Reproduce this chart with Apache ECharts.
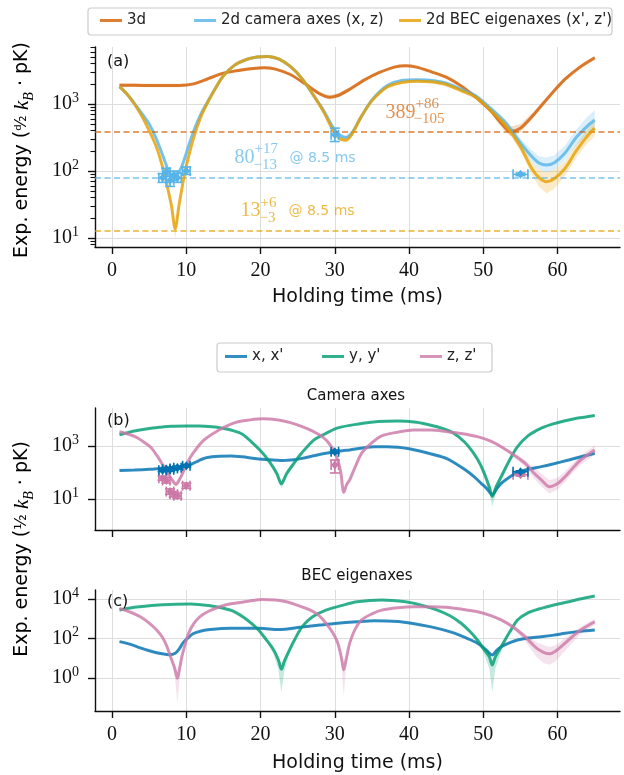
<!DOCTYPE html>
<html><head><meta charset="utf-8">
<script src="https://cdn.jsdelivr.net/npm/echarts@6/dist/echarts.min.js"></script>
<style>html,body{margin:0;padding:0;background:#fff}#c{width:624px;height:775px}</style>
</head><body><div id="c"></div>
<script>
// ---------- DATA (values are log10 of energy) ----------
const xTicks = [0, 10, 20, 30, 40, 50, 60];
const aMajor = [10, 100, 1000];
const aMinor = [8, 9, 20, 30, 40, 50, 60, 70, 80, 90, 200, 300, 400, 500, 600, 700, 800, 900, 2000, 3000, 4000, 5000, 6000, 7000];
const bMajor = [10, 1000];
const cMajor = [1, 100, 10000];

// panel (a)
const a3d_t = [1, 3, 5, 7, 9, 11, 13, 15, 17, 19, 20.5, 22, 24, 26, 28, 29.3, 30.5, 32, 34, 36, 38, 39.5, 41, 43, 45, 47, 49, 51, 52.5, 53.6, 55, 57, 59, 61, 63, 65];
const a3d_e = [3.28, 3.28, 3.275, 3.275, 3.275, 3.30, 3.38, 3.46, 3.50, 3.53, 3.54, 3.52, 3.44, 3.30, 3.15, 3.10, 3.13, 3.22, 3.36, 3.47, 3.55, 3.57, 3.55, 3.48, 3.40, 3.27, 3.10, 2.90, 2.70, 2.59, 2.64, 2.87, 3.13, 3.37, 3.55, 3.69];
const a3d_w = [0.03,0.025,0.025,0.025,0.025, 0.02,0.02,0.02,0.02,0.02, 0.02,0.02,0.02,0.02,0.025, 0.03,0.03,0.025,0.02,0.02, 0.02,0.02,0.02,0.02,0.02, 0.025,0.03,0.04,0.06,0.07, 0.06,0.04,0.03,0.03,0.03,0.03];

const a2_t = [1, 2, 3, 4, 5, 6, 7, 7.5, 8, 8.5, 9, 9.5, 10, 11, 12, 13, 14, 15, 16.5, 18, 19.5, 21, 22.5, 24, 25.5, 27, 28.5, 29.7, 30.7, 31.5, 32.3, 33.5, 35, 37, 39, 41, 43, 45, 47, 49, 51, 53, 55, 56.5, 57.5, 58.5, 59.5, 61, 62.5, 64, 65];
const aCam_e = [3.26, 3.15, 3.01, 2.86, 2.70, 2.47, 2.18, 2.03, 1.94, 1.92, 1.98, 2.10, 2.27, 2.60, 2.86, 3.06, 3.25, 3.42, 3.58, 3.66, 3.70, 3.71, 3.67, 3.56, 3.39, 3.15, 2.90, 2.66, 2.53, 2.50, 2.57, 2.80, 3.06, 3.27, 3.35, 3.36, 3.35, 3.31, 3.22, 3.12, 2.93, 2.72, 2.42, 2.22, 2.12, 2.09, 2.12, 2.27, 2.50, 2.67, 2.76];
const aCam_w = [0.03,0.02,0.02,0.02,0.02, 0.02,0.03,0.03,0.03,0.03, 0.03,0.03,0.03,0.02,0.02, 0.02,0.02,0.02,0.02,0.02, 0.02,0.02,0.02,0.02,0.02, 0.02,0.02,0.03,0.03,0.03, 0.03,0.02,0.02,0.02,0.02, 0.02,0.03,0.03,0.03,0.03, 0.04,0.05,0.07,0.09,0.10, 0.11,0.11,0.11,0.12,0.14, 0.15];
const aBec_e = [3.26, 3.15, 3.00, 2.82, 2.60, 2.35, 1.98, 1.74, 1.48, 1.14, 1.48, 1.80, 2.08, 2.50, 2.82, 3.05, 3.25, 3.42, 3.58, 3.66, 3.70, 3.71, 3.67, 3.56, 3.39, 3.15, 2.88, 2.62, 2.48, 2.46, 2.55, 2.80, 3.05, 3.25, 3.32, 3.34, 3.33, 3.29, 3.20, 3.10, 2.90, 2.68, 2.36, 2.04, 1.90, 1.84, 1.88, 2.04, 2.30, 2.52, 2.64];
const aBec_w = [0.03,0.02,0.02,0.02,0.02, 0.02,0.03,0.03,0.04,0.05, 0.04,0.03,0.03,0.02,0.02, 0.02,0.02,0.02,0.02,0.02, 0.02,0.02,0.02,0.02,0.02, 0.02,0.02,0.03,0.03,0.03, 0.03,0.02,0.02,0.02,0.02, 0.02,0.03,0.03,0.03,0.03, 0.03,0.04,0.06,0.09,0.12, 0.14,0.13,0.11,0.10,0.11, 0.12];
const aBec_wlo = [0.03,0.02,0.02,0.02,0.02, 0.02,0.03,0.04,0.08,0.16, 0.08,0.04,0.03,0.02,0.02, 0.02,0.02,0.02,0.02,0.02, 0.02,0.02,0.02,0.02,0.02, 0.02,0.02,0.03,0.03,0.03, 0.03,0.02,0.02,0.02,0.02, 0.02,0.03,0.03,0.03,0.03, 0.03,0.04,0.06,0.09,0.14, 0.17,0.15,0.11,0.10,0.11, 0.12];
const aLevels = [389, 80, 13];

// measured points (shared times)
const ptT = [6.8, 7.3, 7.8, 8.3, 8.8, 10.0, 30.0, 55.0];
const ptTerr = [0.5, 0.5, 0.5, 0.5, 0.5, 0.5, 0.5, 1.0];
const aPtE  = [1.90, 1.98, 1.86, 1.93, 1.90, 2.00, 2.54, 1.95];
const aPtLo = [1.83, 1.92, 1.77, 1.86, 1.83, 1.95, 2.44, 1.93];
const aPtHi = [1.96, 2.04, 1.94, 2.00, 1.97, 2.06, 2.64, 1.97];
const bXPtE  = [2.08, 2.12, 2.10, 2.15, 2.18, 2.25, 2.78, 2.03];
const bXPtLo = [2.03, 2.07, 2.05, 2.10, 2.13, 2.20, 2.72, 2.00];
const bXPtHi = [2.13, 2.17, 2.15, 2.20, 2.23, 2.30, 2.84, 2.06];
const bZPtE  = [1.78, 1.70, 1.28, 1.18, 1.12, 1.50, 2.28, 1.91];
const bZPtLo = [1.70, 1.60, 1.18, 1.08, 1.02, 1.40, 1.98, 1.86];
const bZPtHi = [1.86, 1.80, 1.38, 1.28, 1.22, 1.60, 2.47, 1.96];

// panel (b) camera axes
const bX_t = [1, 3, 5, 6.3, 7.5, 8.5, 9.5, 10.6, 11.7, 12.8, 14.5, 16, 17.5, 19.2, 21, 23, 24.5, 25.6, 27.5, 29.4, 31, 32, 33.5, 35.3, 37, 38.5, 40, 41.7, 43.5, 45, 46.3, 47.6, 48.7, 49.7, 50.5, 51.2, 51.8, 52.4, 53.5, 54.6, 56, 57.8, 59.5, 61.5, 63, 65];
const bX_e = [2.07, 2.09, 2.12, 2.15, 2.18, 2.20, 2.23, 2.30, 2.45, 2.56, 2.61, 2.62, 2.59, 2.53, 2.48, 2.45, 2.48, 2.53, 2.65, 2.75, 2.82, 2.85, 2.91, 2.97, 2.97, 2.95, 2.89, 2.79, 2.66, 2.53, 2.33, 2.09, 1.85, 1.59, 1.38, 1.15, 1.38, 1.59, 1.82, 2.00, 2.12, 2.22, 2.33, 2.47, 2.58, 2.72];
const bX_w = [0.03,0.02,0.02,0.02,0.02, 0.02,0.02,0.02,0.02,0.02, 0.02,0.02,0.02,0.02,0.02, 0.02,0.02,0.02,0.02,0.02, 0.02,0.02,0.02,0.02,0.02, 0.02,0.02,0.02,0.02,0.02, 0.02,0.03,0.03,0.04,0.05, 0.07,0.05,0.04,0.03,0.03, 0.03,0.03,0.03,0.03,0.03, 0.03];
const bY_t = [1, 3, 5, 6.3, 8, 10, 11.7, 13.5, 15, 16, 17.5, 19.2, 20.3, 21.3, 22.2, 22.8, 23.5, 24.5, 25.5, 27.2, 29, 30.4, 33, 35.8, 38.5, 41, 42.8, 44.5, 46, 47.5, 48.7, 49.6, 50.3, 50.8, 51.2, 51.7, 52.4, 53.5, 54.6, 56, 57.8, 59.5, 61.5, 63, 65];
const bY_e = [3.42, 3.56, 3.66, 3.70, 3.74, 3.75, 3.75, 3.72, 3.66, 3.60, 3.45, 3.04, 2.72, 2.36, 1.95, 1.57, 1.95, 2.35, 2.72, 3.23, 3.50, 3.68, 3.82, 3.92, 3.94, 3.89, 3.79, 3.66, 3.48, 3.14, 2.72, 2.30, 1.84, 1.45, 1.09, 1.45, 1.84, 2.45, 2.97, 3.38, 3.67, 3.84, 3.98, 4.06, 4.15];
const bY_w = [0.03,0.02,0.02,0.02,0.02, 0.02,0.02,0.02,0.02,0.02, 0.02,0.03,0.04,0.05,0.07, 0.10,0.07,0.05,0.04,0.03, 0.02,0.02,0.02,0.02,0.02, 0.02,0.02,0.02,0.03,0.04, 0.05,0.07,0.10,0.13,0.15, 0.13,0.10,0.06,0.04,0.03, 0.03,0.03,0.03,0.03,0.03];
const bY_wlo = [0.03,0.02,0.02,0.02,0.02, 0.02,0.02,0.02,0.02,0.02, 0.02,0.03,0.04,0.06,0.10, 0.18,0.10,0.06,0.04,0.03, 0.02,0.02,0.02,0.02,0.02, 0.02,0.02,0.02,0.03,0.04, 0.05,0.08,0.14,0.22,0.38, 0.22,0.14,0.07,0.04,0.03, 0.03,0.03,0.03,0.03,0.03];
const bZ_t = [1, 2, 3.1, 4, 5.2, 6, 6.8, 7.5, 8.0, 8.6, 9.2, 9.8, 10.5, 11.5, 12.5, 14.4, 16, 17.1, 18.5, 20.3, 22.4, 24, 25.6, 27, 28.3, 29.2, 29.9, 30.4, 30.8, 31.2, 31.6, 32, 32.8, 33.6, 35, 36.3, 38.5, 40.6, 43, 45, 47, 49.2, 51, 52.4, 54, 55.6, 56.8, 57.8, 58.9, 60, 61, 62, 63.1, 65];
const bZ_e = [3.54, 3.46, 3.35, 3.20, 2.95, 2.65, 2.30, 1.98, 1.75, 1.55, 1.80, 2.15, 2.55, 2.95, 3.25, 3.60, 3.82, 3.92, 3.98, 4.02, 3.98, 3.88, 3.73, 3.56, 3.35, 3.10, 2.79, 2.45, 2.00, 1.25, 1.55, 1.72, 2.25, 2.72, 3.12, 3.38, 3.52, 3.60, 3.60, 3.54, 3.47, 3.35, 3.18, 2.97, 2.68, 2.35, 1.98, 1.72, 1.46, 1.58, 1.84, 2.15, 2.47, 2.85];
const bZ_w = [0.03,0.03,0.03,0.03,0.03, 0.03,0.04,0.05,0.07,0.10, 0.07,0.05,0.04,0.03,0.03, 0.03,0.03,0.03,0.03,0.03, 0.03,0.03,0.03,0.03,0.03, 0.03,0.04,0.05,0.07,0.10, 0.07,0.05,0.04,0.03,0.03, 0.03,0.03,0.03,0.03,0.03, 0.03,0.03,0.04,0.05,0.08, 0.12,0.20,0.25,0.25,0.22, 0.20,0.18,0.18,0.18];

// panel (c) BEC eigenaxes
const cX_t = [1, 2.5, 3.8, 5, 6.5, 7.8, 8.5, 9.0, 9.6, 10.3, 10.9, 12, 13.2, 16, 19.9, 22.4, 25.6, 28, 30, 33, 35.3, 38.5, 40.5, 42.8, 44.5, 46, 47.5, 49.2, 50.3, 51.2, 51.8, 52.4, 53.5, 54.6, 56, 57.8, 59.5, 61, 63, 65];
const cX_e = [1.84, 1.70, 1.52, 1.38, 1.24, 1.17, 1.25, 1.45, 1.80, 2.05, 2.24, 2.38, 2.46, 2.52, 2.52, 2.45, 2.58, 2.68, 2.76, 2.85, 2.90, 2.86, 2.76, 2.60, 2.45, 2.28, 2.05, 1.76, 1.45, 1.16, 1.40, 1.58, 1.78, 1.92, 2.02, 2.09, 2.17, 2.26, 2.36, 2.43];
const cX_w = [0.03,0.03,0.03,0.03,0.04, 0.05,0.05,0.04,0.03,0.03, 0.03,0.03,0.03,0.03,0.03, 0.03,0.03,0.03,0.03,0.03, 0.03,0.03,0.03,0.03,0.03, 0.03,0.03,0.04,0.05,0.07, 0.05,0.04,0.03,0.03,0.03, 0.03,0.03,0.03,0.03,0.03];
const cY_t = [1, 3, 6.3, 8.5, 10.6, 13, 15, 16.5, 18.2, 19.6, 20.8, 21.7, 22.4, 22.8, 23.2, 23.8, 24.6, 25.6, 27, 28.8, 31, 33, 36.3, 39.5, 41.5, 43.8, 45.5, 47, 48.2, 49.2, 50.1, 50.8, 51.2, 51.6, 52.4, 53.5, 54.6, 56, 57.8, 59.5, 61.5, 63, 65];
const cY_e = [3.44, 3.58, 3.70, 3.74, 3.75, 3.67, 3.53, 3.35, 2.94, 2.48, 1.92, 1.45, 0.91, 0.44, 0.85, 1.35, 1.95, 2.60, 3.10, 3.44, 3.68, 3.86, 3.95, 3.86, 3.70, 3.44, 3.15, 2.77, 2.35, 1.92, 1.45, 1.08, 0.66, 1.05, 1.58, 2.30, 2.94, 3.30, 3.53, 3.70, 3.86, 4.00, 4.15];
const cY_w = [0.03,0.02,0.02,0.02,0.02, 0.02,0.02,0.02,0.03,0.04, 0.06,0.10,0.15,0.20,0.15, 0.10,0.06,0.04,0.03,0.02, 0.02,0.02,0.02,0.02,0.02, 0.02,0.02,0.03,0.04,0.06, 0.10,0.15,0.20,0.15,0.10, 0.06,0.04,0.03,0.02,0.02, 0.02,0.02,0.02];
const cY_wlo = [0.03,0.02,0.02,0.02,0.02, 0.02,0.02,0.02,0.03,0.05, 0.08,0.20,0.50,1.20,0.50, 0.20,0.08,0.05,0.03,0.02, 0.02,0.02,0.02,0.02,0.02, 0.02,0.02,0.03,0.05,0.08, 0.25,0.60,1.42,0.60,0.25, 0.08,0.05,0.03,0.02,0.02, 0.02,0.02,0.02];
const cZ_t = [1, 2.5, 3.8, 5, 6, 6.8, 7.4, 7.9, 8.2, 8.5, 8.8, 9.1, 9.4, 9.8, 10.3, 11, 11.8, 13, 14.5, 16, 18.1, 20.3, 22, 23.5, 25, 26.7, 27.8, 28.8, 29.7, 30.4, 30.9, 31.2, 31.5, 32, 32.7, 33.6, 35, 36.3, 38.5, 40.6, 43, 45, 47, 49.2, 51, 52.4, 54, 55.6, 56.5, 57.2, 58.1, 58.9, 59.7, 61, 62, 63.1, 65];
const cZ_e = [3.53, 3.33, 3.10, 2.78, 2.43, 2.05, 1.58, 1.05, 0.74, 0.40, -0.02, 0.50, 1.08, 1.65, 2.26, 2.75, 3.10, 3.38, 3.61, 3.76, 3.88, 3.98, 3.95, 3.86, 3.68, 3.44, 3.18, 2.77, 2.30, 1.76, 1.00, 0.41, 0.90, 1.76, 2.45, 2.94, 3.25, 3.44, 3.56, 3.61, 3.61, 3.58, 3.49, 3.36, 3.16, 2.94, 2.58, 2.09, 1.75, 1.50, 1.30, 1.22, 1.35, 1.76, 2.10, 2.43, 2.85];
const cZ_w = [0.03,0.03,0.03,0.03,0.03, 0.04,0.05,0.07,0.10,0.12, 0.15,0.12,0.10,0.07,0.05, 0.04,0.03,0.03,0.03,0.03, 0.03,0.03,0.03,0.03,0.03, 0.03,0.03,0.04,0.05,0.07, 0.10,0.15,0.10,0.07,0.05, 0.04,0.03,0.03,0.03,0.03, 0.03,0.03,0.03,0.03,0.04, 0.05,0.08,0.15,0.25,0.30, 0.35,0.35,0.30,0.25,0.20, 0.17,0.15];
const cZ_wlo = [0.03,0.03,0.03,0.03,0.03, 0.04,0.06,0.10,0.20,0.50, 1.25,0.50,0.20,0.10,0.06, 0.04,0.03,0.03,0.03,0.03, 0.03,0.03,0.03,0.03,0.03, 0.03,0.03,0.04,0.06,0.12, 0.40,1.35,0.40,0.12,0.06, 0.04,0.03,0.03,0.03,0.03, 0.03,0.03,0.03,0.03,0.04, 0.06,0.10,0.20,0.35,0.45, 0.55,0.55,0.50,0.40,0.30, 0.20,0.15];

// ---------- STYLE ----------
const SERIF = "'Liberation Serif', 'DejaVu Serif', serif";
const SANS = "'DejaVu Sans', sans-serif";
const INK = '#111';
const C = {
  o: [213, 94, 0], sky: [86, 180, 233], gold: [230, 159, 0],
  bl: [0, 114, 178], gr: [0, 158, 115], pk: [204, 121, 167]
};
const rgba = (c, a) => `rgba(${c[0]},${c[1]},${c[2]},${a})`;
const P = v => Math.pow(10, v);

function curve(name, col, gi, yi, t, e, w, wlo, z, extra) {
  const lw = wlo || w;
  const rows = t.map((x, i) => [x, P(e[i] - lw[i]), P(e[i] + w[i])]);
  const band = { type: 'custom', xAxisIndex: gi, yAxisIndex: yi, coordinateSystem: 'cartesian2d', silent: true, z: 1,
    animation: false, encode: { x: 0, y: [1, 2] }, data: rows,
    renderItem: function (params, api) {
      if (params.dataIndex !== 0) return null;
      const up = rows.map(r => api.coord([r[0], r[2]]));
      const dn = rows.map(r => api.coord([r[0], r[1]])).reverse();
      return { type: 'polygon', shape: { points: up.concat(dn) }, style: { fill: rgba(col, 0.22) } };
    } };
  const line = Object.assign({ type: 'line', name: name, xAxisIndex: gi, yAxisIndex: yi, symbol: 'none', showSymbol: false,
    smooth: 0.3, silent: true, animation: false, data: t.map((x, i) => [x, P(e[i])]),
    color: rgba(col, 0.8), itemStyle: { color: rgba(col, 0.8) }, lineStyle: { color: rgba(col, 0.8), width: 3 }, z: z }, extra || {});
  return [band, line];
}
function hline(val, col) {
  return { silent: true, symbol: ['none', 'none'], label: { show: false }, animation: false,
    lineStyle: { color: rgba(col, 0.8), width: 1.6, type: [6, 3.5] }, data: [{ yAxis: val }] };
}
function errRender(color) {
  return function (params, api) {
    const t = api.value(0), v = api.value(1), lo = api.value(2), hi = api.value(3), te = api.value(4);
    const c = api.coord([t, v]), a = api.coord([t, lo]), b = api.coord([t, hi]);
    const l = api.coord([t - te, v]), r = api.coord([t + te, v]);
    const cap = 5, m = 4.5;
    const st = { stroke: color, lineWidth: 1.6 };
    const seg = (x1, y1, x2, y2) => ({ type: 'line', shape: { x1, y1, x2, y2 }, style: st });
    return { type: 'group', children: [
      seg(a[0], a[1], b[0], b[1]), seg(a[0] - cap, a[1], a[0] + cap, a[1]), seg(b[0] - cap, b[1], b[0] + cap, b[1]),
      seg(l[0], l[1], r[0], r[1]), seg(l[0], l[1] - cap, l[0], l[1] + cap), seg(r[0], r[1] - cap, r[0], r[1] + cap),
      { type: 'polygon', shape: { points: [[c[0], c[1] - m], [c[0] + m * 0.8, c[1]], [c[0], c[1] + m], [c[0] - m * 0.8, c[1]]] }, style: { fill: color } }
    ] };
  };
}
function errSeries(gi, yi, e, lo, hi, color) {
  return { type: 'custom', xAxisIndex: gi, yAxisIndex: yi, coordinateSystem: 'cartesian2d', silent: true, z: 8, clip: false,
    encode: { x: 0, y: 1 }, animation: false,
    data: ptT.map((x, i) => [x, P(e[i]), P(lo[i]), P(hi[i]), ptTerr[i]]), renderItem: errRender(color) };
}
function txt(t, v, text, color, font, size, dx, dy) {
  return { value: [t, v], label: { show: true, position: [0, 0], offset: [dx, dy], formatter: text, color: color,
    fontFamily: font, fontSize: size, align: 'left', verticalAlign: 'middle' } };
}

const X_MIN = -2.3, X_MAX = 68.4;
function xAxis(gi, showLabels, name, gap) {
  return { gridIndex: gi, type: 'value', min: X_MIN, max: X_MAX,
    axisLine: { show: true, onZero: false, lineStyle: { color: INK, width: 1.4 } },
    axisTick: { show: true, customValues: xTicks, length: 7, lineStyle: { color: INK, width: 1.4 } },
    axisLabel: { show: showLabels, customValues: xTicks, margin: 14, fontFamily: SERIF, fontSize: 20, color: INK },
    splitLine: { show: true, lineStyle: { color: '#dddddd', width: 1 } },
    name: name || '', nameLocation: 'middle', nameGap: gap || 41,
    nameTextStyle: { fontFamily: SANS, fontSize: 19, color: INK } };
}
const powRich = {
  b: { fontFamily: SERIF, fontSize: 20, color: INK, lineHeight: 26 },
  s: { fontFamily: SERIF, fontSize: 14, color: INK, lineHeight: 14, verticalAlign: 'top' }
};
function yAxisMain(gi, min, max, major) {
  return { gridIndex: gi, type: 'log', logBase: 10, min: min, max: max,
    axisLine: { show: true, onZero: false, lineStyle: { color: INK, width: 1.4 } },
    axisTick: { show: true, customValues: major, length: 7, lineStyle: { color: INK, width: 1.4 } },
    axisLabel: { show: true, customValues: major, margin: 16, align: 'right',
      formatter: v => '{b|10}{s|' + Math.round(Math.log10(v)) + '}', rich: powRich },
    splitLine: { show: true, lineStyle: { color: '#dddddd', width: 1 } },
    minorTick: { show: false }, minorSplitLine: { show: false } };
}
// second, label-less axis over panel (a) that carries the minor (2..9) log ticks
const yMinor = { gridIndex: 0, type: 'log', logBase: 10, min: 7.35, max: 7080, position: 'left', offset: 0,
  axisLine: { show: true, onZero: false, lineStyle: { color: 'rgba(0,0,0,0)', width: 1 } },
  axisLabel: { show: false }, splitLine: { show: false }, minorTick: { show: false },
  axisTick: { show: true, inside: false, customValues: aMinor, length: 4.5, lineStyle: { color: INK, width: 1.1 } } };

const series = [].concat(
  curve('3d', C.o, 0, 0, a3d_t, a3d_e, a3d_w, null, 3, { markLine: hline(aLevels[0], C.o) }),
  curve('2d camera axes (x, z)', C.sky, 0, 0, a2_t, aCam_e, aCam_w, null, 4, { markLine: hline(aLevels[1], C.sky) }),
  curve("2d BEC eigenaxes (x', z')", C.gold, 0, 0, a2_t, aBec_e, aBec_w, aBec_wlo, 5, { markLine: hline(aLevels[2], C.gold) }),
  [errSeries(0, 0, aPtE, aPtLo, aPtHi, rgba(C.sky, 1))],
  curve("x, x'", C.bl, 1, 2, bX_t, bX_e, bX_w, null, 3),
  curve("y, y'", C.gr, 1, 2, bY_t, bY_e, bY_w, bY_wlo, 4),
  curve("z, z'", C.pk, 1, 2, bZ_t, bZ_e, bZ_w, null, 5),
  [errSeries(1, 2, bZPtE, bZPtLo, bZPtHi, rgba(C.pk, 1)), errSeries(1, 2, bXPtE, bXPtLo, bXPtHi, rgba(C.bl, 1))],
  curve("x, x'", C.bl, 2, 3, cX_t, cX_e, cX_w, null, 3),
  curve("y, y'", C.gr, 2, 3, cY_t, cY_e, cY_w, cY_wlo, 4),
  curve("z, z'", C.pk, 2, 3, cZ_t, cZ_e, cZ_w, cZ_wlo, 5),
  [{ type: 'scatter', xAxisIndex: 0, yAxisIndex: 0, symbolSize: 1, silent: true, z: 10, animation: false,
     itemStyle: { color: 'rgba(0,0,0,0)' },
     data: [
       txt(36.9, 735, '389', rgba(C.o, 0.85), SERIF, 20, 0, 0),
       txt(36.9, 735, '+86', rgba(C.o, 0.85), SERIF, 15, 30, -8),
       txt(36.9, 735, '\u2212105', rgba(C.o, 0.85), SERIF, 15, 28, 7),
       txt(16.55, 156, '80', rgba(C.sky, 0.9), SERIF, 20, 0, 0),
       txt(16.55, 156, '+17', rgba(C.sky, 0.9), SERIF, 15, 20, -8),
       txt(16.55, 156, '\u221213', rgba(C.sky, 0.9), SERIF, 15, 19, 8),
       txt(16.55, 156, '@ 8.5 ms', rgba(C.sky, 0.9), SANS, 14, 55, 1),
       txt(17.36, 25.3, '13', rgba(C.gold, 0.9), SERIF, 20, 0, 0),
       txt(17.36, 25.3, '+6', rgba(C.gold, 0.9), SERIF, 15, 20, -7),
       txt(17.36, 25.3, '\u22123', rgba(C.gold, 0.9), SERIF, 15, 19, 8),
       txt(17.36, 25.3, '@ 8.5 ms', rgba(C.gold, 0.9), SANS, 14, 48, 1)
     ] }]
);

const legBase = { orient: 'horizontal', padding: 0, itemWidth: 22, itemHeight: 3, icon: 'rect', selectedMode: false,
  textStyle: { fontFamily: SANS, fontSize: 15, color: '#222' } };
const leg = (name, left, top) => Object.assign({}, legBase, { data: [name], left: left, top: top });

const labRich = {
  t: { fontFamily: SANS, fontSize: 19, color: INK, lineHeight: 28 },
  f: { fontFamily: SANS, fontSize: 16, color: INK, lineHeight: 28 },
  k: { fontFamily: SERIF, fontStyle: 'italic', fontSize: 21, color: INK, lineHeight: 28 },
  s: { fontFamily: SERIF, fontStyle: 'italic', fontSize: 14, color: INK, lineHeight: 14, verticalAlign: 'bottom' }
};

const option = {
  animation: false,
  backgroundColor: '#ffffff',
  grid: [
    { left: 95, top: 47, width: 525, height: 200, containLabel: false, outerBoundsMode: 'none' },
    { left: 95, top: 408, width: 525, height: 122, containLabel: false, outerBoundsMode: 'none' },
    { left: 95, top: 590, width: 525, height: 121, containLabel: false, outerBoundsMode: 'none' }
  ],
  xAxis: [xAxis(0, true, 'Holding time (ms)', 41), xAxis(1, false, ''), xAxis(2, true, 'Holding time (ms)', 43)],
  yAxis: [yAxisMain(0, 7.35, 7080, aMajor), yMinor, yAxisMain(1, 0.676, 26900, bMajor), yAxisMain(2, 0.0209, 28800, cMajor)],
  legend: [
    leg('3d', 100, 13), leg('2d camera axes (x, z)', 194, 13), leg("2d BEC eigenaxes (x', z')", 399, 13),
    leg("x, x'", 225, 349), leg("y, y'", 322, 349), leg("z, z'", 420, 349)
  ],
  graphic: [
    { type: 'rect', z: 0, shape: { x: 88, y: 8, width: 524, height: 27, r: 3 }, style: { fill: '#fff', stroke: '#cccccc', lineWidth: 1.2 } },
    { type: 'rect', z: 0, shape: { x: 217, y: 343, width: 275, height: 29, r: 3 }, style: { fill: '#fff', stroke: '#cccccc', lineWidth: 1.2 } },
    { type: 'text', z: 20, x: 107, y: 62, style: { text: '(a)', fontFamily: SANS, fontSize: 16, fill: INK, verticalAlign: 'middle' } },
    { type: 'text', z: 20, x: 107, y: 421, style: { text: '(b)', fontFamily: SANS, fontSize: 16, fill: INK, verticalAlign: 'middle' } },
    { type: 'text', z: 20, x: 107, y: 602, style: { text: '(c)', fontFamily: SANS, fontSize: 16, fill: INK, verticalAlign: 'middle' } },
    { type: 'text', z: 20, x: 356, y: 396, style: { text: 'Camera axes', fontFamily: SANS, fontSize: 15, fill: INK, align: 'center', verticalAlign: 'middle' } },
    { type: 'text', z: 20, x: 357, y: 576, style: { text: 'BEC eigenaxes', fontFamily: SANS, fontSize: 15, fill: INK, align: 'center', verticalAlign: 'middle' } },
    { type: 'text', z: 20, x: 22, y: 150, rotation: Math.PI / 2,
      style: { text: '{t|Exp. energy (}{f|\u1d48\u2044\u2082}{k| k}{s|B}{t| \u00b7 pK)}', rich: labRich, align: 'center', verticalAlign: 'middle' } },
    { type: 'text', z: 20, x: 22, y: 549, rotation: Math.PI / 2,
      style: { text: '{t|Exp. energy (}{f|\u00bd}{k| k}{s|B}{t| \u00b7 pK)}', rich: labRich, align: 'center', verticalAlign: 'middle' } }
  ],
  series: series
};

const chart = echarts.init(document.getElementById('c'), null, { renderer: 'canvas', width: 624, height: 775 });
chart.setOption(option);
</script>
</body></html>
